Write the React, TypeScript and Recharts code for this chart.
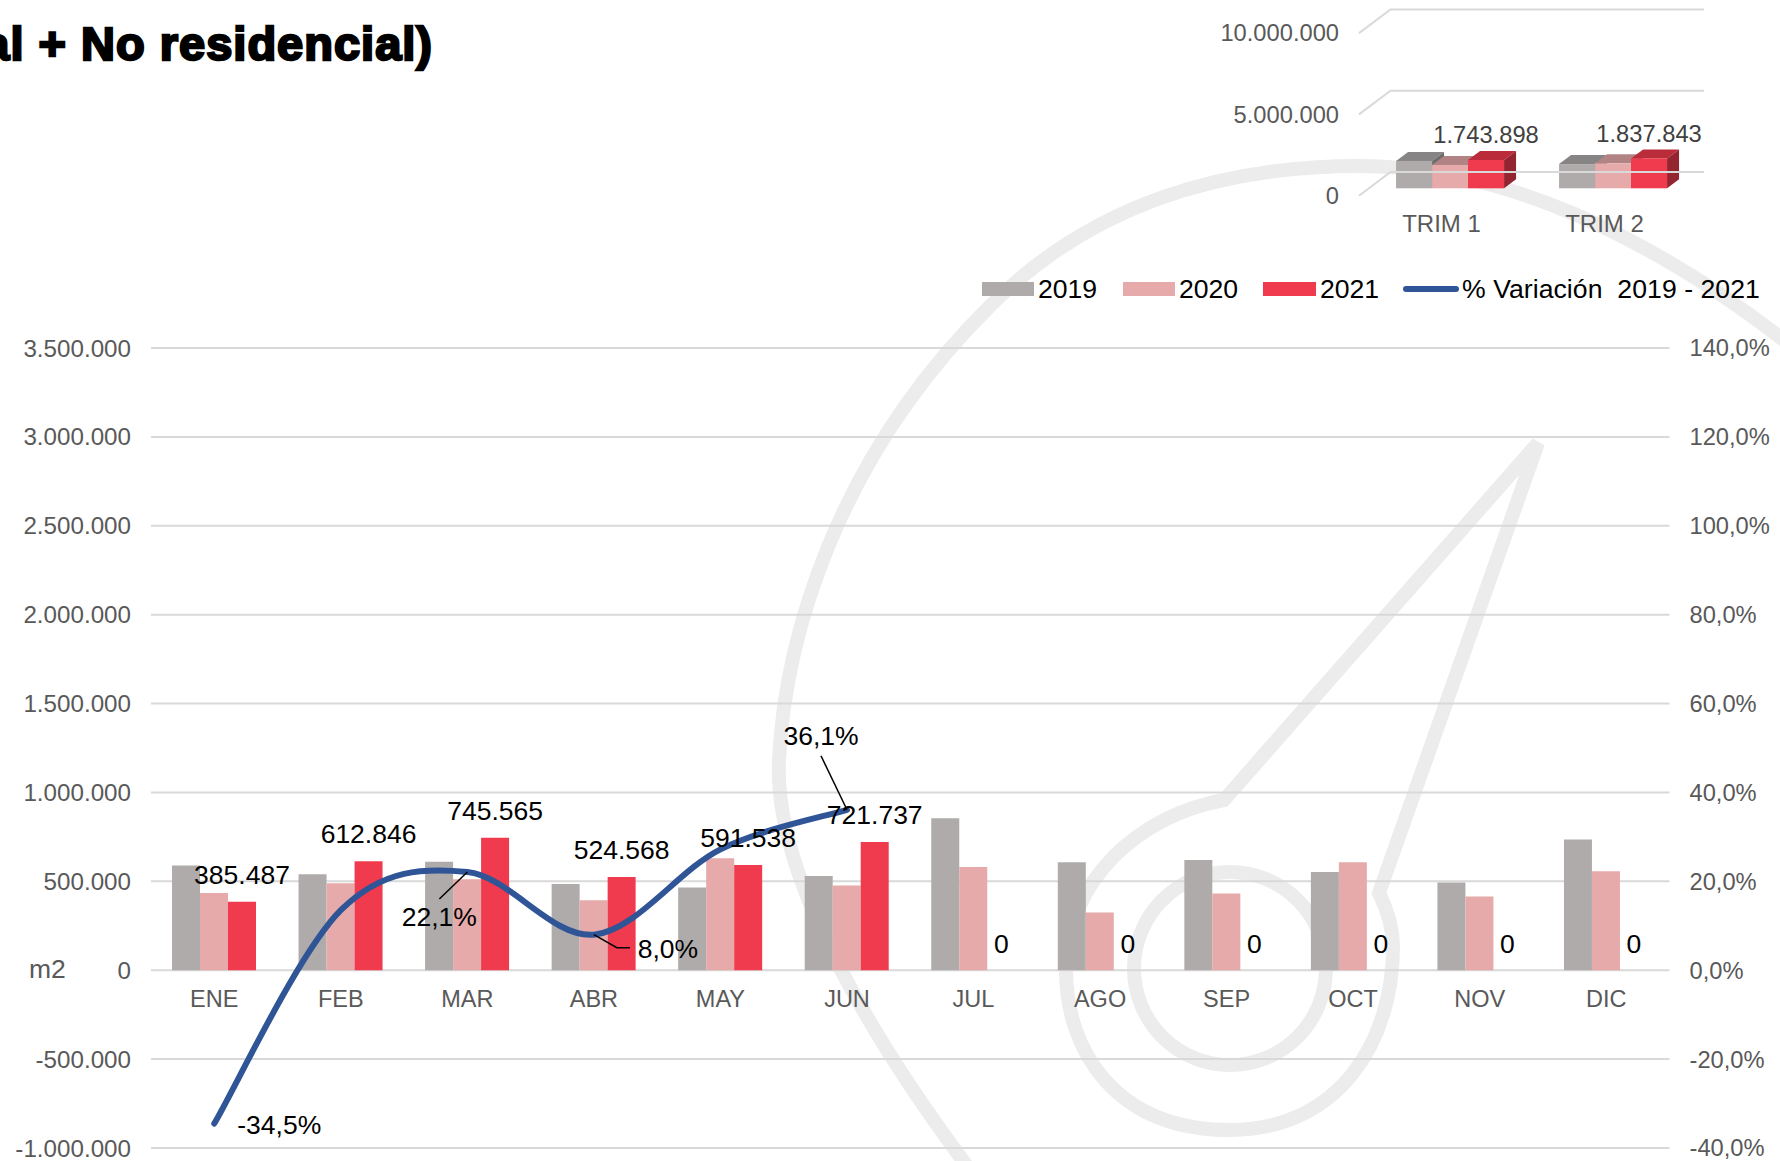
import React from "react"
import {
  Bar,
  BarChart,
  CartesianGrid,
  ComposedChart,
  LabelList,
  Line,
  XAxis,
  YAxis,
} from "recharts"

const months = ["ENE", "FEB", "MAR", "ABR", "MAY", "JUN", "JUL", "AGO", "SEP", "OCT", "NOV", "DIC"]
const values2019 = [588500, 540000, 610600, 485700, 465000, 530300, 855000, 607000, 620000, 553000, 493000, 735000]
const values2020 = [435000, 489000, 512000, 394000, 630000, 476000, 581000, 324000, 431000, 607000, 414000, 557000]
const values2021 = [385487, 612846, 745565, 524568, 591538, 721737, 0, 0, 0, 0, 0, 0]
const variation = [-34.5, 13.5, 22.1, 8.0, 27.2, 36.1, null, null, null, null, null, null]

const quarters = ["TRIM 1", "TRIM 2"]
const quarter2019 = [1686000, 1490000]
const quarter2020 = [1436000, 1537000]
const quarter2021 = [1743898, 1837843]

const leftTicks = [-1000000, -500000, 0, 500000, 1000000, 1500000, 2000000, 2500000, 3000000, 3500000]
const rightTicks = [-40, -20, 0, 20, 40, 60, 80, 100, 120, 140]
const insetTicks = [0, 5000000, 10000000]

const GREY = "#AFABAB"
const PINK = "#E6AAAA"
const RED = "#EF3B4D"
const BLUE = "#2F5597"
const TEXT = "#595959"
const FONT = "'Liberation Sans', Arial, sans-serif"

const monthRows = months.map((month, i) => ({
  month,
  y2019: values2019[i],
  y2020: values2020[i],
  y2021: values2021[i],
  pct: variation[i],
}))

const quarterRows = quarters.map((quarter, i) => ({
  quarter,
  y2019: quarter2019[i],
  y2020: quarter2020[i],
  y2021: quarter2021[i],
}))

const legendItems = [
  { label: "2019", color: GREY, left: 982, width: 52 },
  { label: "2020", color: PINK, left: 1123, width: 52 },
  { label: "2021", color: RED, left: 1263, width: 53 },
]

// hand placed labels of the line, only these months have one
const pctLabels: Record<number, { dx: number; dy: number; leader?: string }> = {
  0: { dx: 65, dy: 1 },
  2: { dx: -28, dy: 45, leader: "0,0 -28,27" },
  3: { dx: 74, dy: 14, leader: "0,0 23,13 36,13" },
  5: { dx: -26, dy: -74, leader: "0,0 -26,-54" },
}

const thousands = (v: number) => v.toLocaleString("de-DE")
const percent = (v: number) => `${v.toFixed(1).replace(".", ",")}%`

// Excel style smoothing, tangents from the two neighbours
const smoothCurve = (context: any) => {
  let pts: number[][] = []
  return {
    areaStart() {},
    areaEnd() {},
    lineStart() {
      pts = []
    },
    point(x: number, y: number) {
      pts.push([+x, +y])
    },
    lineEnd() {
      pts.forEach((p, i) => {
        if (i === 0) {
          context.moveTo(p[0], p[1])
          return
        }
        const a = pts[Math.max(i - 2, 0)]
        const b = pts[i - 1]
        const c = pts[Math.min(i + 1, pts.length - 1)]
        context.bezierCurveTo(
          b[0] + (p[0] - a[0]) / 6,
          b[1] + (p[1] - a[1]) / 6,
          p[0] - (c[0] - b[0]) / 6,
          p[1] - (c[1] - b[1]) / 6,
          p[0],
          p[1],
        )
      })
    },
  }
}

const PctLabel = ({ x, y, value, index }: any) => {
  const place = pctLabels[index]
  if (!place || value == null) return null
  return (
    <g>
      {place.leader && (
        <polyline
          points={place.leader}
          transform={`translate(${x},${y})`}
          fill="none"
          stroke="#000"
          strokeWidth={1.5}
        />
      )}
      <text
        x={x + place.dx}
        y={y + place.dy + 9}
        textAnchor="middle"
        fontSize={26.5}
        fontFamily={FONT}
        fill="#000"
      >
        {percent(value)}
      </text>
    </g>
  )
}

// an empty 2021 bar gets no label of its own, so it is placed from its 2020 neighbour
const ZeroLabel = ({ x, y, width, height, value }: any) => {
  if (value !== 0) return null
  return (
    <text
      x={x + width * 1.5}
      y={y + height - 17}
      textAnchor="middle"
      fontSize={26.5}
      fontFamily={FONT}
      fill="#000"
    >
      {value}
    </text>
  )
}

const MonthTick = ({ x, y, payload }: any) => (
  <text x={x} y={y - 149} textAnchor="middle" fontSize={23.5} fontFamily={FONT} fill={TEXT}>
    {payload.value}
  </text>
)

// gridline of the little 3D chart: side wall plus back wall
const InsetTick = ({ y, payload }: any) => (
  <g>
    <polyline
      points={`1359,${y + 7.4} 1390.5,${y - 16.3} 1704,${y - 16.3}`}
      fill="none"
      stroke="#D9D9D9"
      strokeWidth={2}
    />
    <text x={1339} y={y + 15.5} textAnchor="end" fontSize={23.7} fontFamily={FONT} fill={TEXT}>
      {thousands(payload.value)}
    </text>
  </g>
)

const QuarterTick = ({ x, y, payload }: any) => (
  <text x={x - 9} y={y + 36} textAnchor="middle" fontSize={24} fontFamily={FONT} fill={TEXT}>
    {payload.value}
  </text>
)

const cube = (topColor: string, sideColor: string) => (props: any) => {
  const { x, y, width, height, fill } = props
  const dx = 12
  const dy = 9
  return (
    <g>
      <polygon
        points={`${x},${y} ${x + dx},${y - dy} ${x + width + dx},${y - dy} ${x + width},${y}`}
        fill={topColor}
      />
      <polygon
        points={`${x + width},${y} ${x + width + dx},${y - dy} ${x + width + dx},${y + height - dy} ${x + width},${y + height}`}
        fill={sideColor}
      />
      <rect x={x} y={y} width={width} height={height} fill={fill} />
    </g>
  )
}

const Watermark = () => (
  <svg width={1780} height={1161} style={{ position: "absolute", left: 0, top: 0 }}>
    <g fill="none" stroke="#ECECEC" strokeWidth={14}>
      <path d="M 970 1170 C 880 1050, 773 880, 779 760 C 785 640, 835 460, 989 307 C 1095 200, 1230 166, 1359 166 C 1500 166, 1650 235, 1790 345" />
      <path d="M 1538 443 L 1224 800 C 1140 815, 1066 880, 1066 970 C 1066 1050, 1115 1130, 1230 1130 C 1340 1130, 1393 1040, 1393 947 C 1393 925, 1385 905, 1379 893 Z" />
      <ellipse cx={1230} cy={968.5} rx={96} ry={96.5} />
    </g>
  </svg>
)

const Legend2 = () => {
  const text: React.CSSProperties = {
    position: "absolute",
    top: 273,
    fontSize: 26.6,
    lineHeight: "32px",
    color: "#000",
    whiteSpace: "pre",
  }
  return (
    <>
      {legendItems.map((item) => (
        <React.Fragment key={item.label}>
          <div
            style={{
              position: "absolute",
              left: item.left,
              top: 282,
              width: item.width,
              height: 14,
              background: item.color,
            }}
          />
          <div style={{ ...text, left: item.left + item.width + 4 }}>{item.label}</div>
        </React.Fragment>
      ))}
      <div
        style={{
          position: "absolute",
          left: 1403,
          top: 286,
          width: 56,
          height: 6,
          borderRadius: 3,
          background: BLUE,
        }}
      />
      <div style={{ ...text, left: 1462, letterSpacing: 0.05 }}>% Variación  2019 - 2021</div>
    </>
  )
}

export default function App() {
  return (
    <div
      style={{
        position: "absolute",
        left: 0,
        top: 0,
        width: 1780,
        height: 1161,
        overflow: "hidden",
        background: "#fff",
        fontFamily: FONT,
      }}
    >
      <Watermark />

      <div
        style={{
          position: "absolute",
          right: 1780 - 433,
          top: 16,
          fontSize: 47,
          lineHeight: "56px",
          fontWeight: 700,
          letterSpacing: 1,
          WebkitTextStroke: "2.4px #000",
          whiteSpace: "nowrap",
          color: "#000",
        }}
      >
        al + No residencial)
      </div>

      <div style={{ position: "absolute", left: 0, top: 0 }}>
        <ComposedChart
          width={1780}
          height={1161}
          data={monthRows}
          margin={{ top: 348, right: 0, bottom: 0, left: 0 }}
          barCategoryGap="16.6%"
          barGap={0}
        >
          <CartesianGrid vertical={false} stroke="#D9D9D9" strokeWidth={2} yAxisId="left" />
          <XAxis
            dataKey="month"
            height={13}
            interval={0}
            axisLine={false}
            tickLine={false}
            tick={<MonthTick />}
          />
          <YAxis
            yAxisId="left"
            width={151}
            domain={[-1000000, 3500000]}
            ticks={leftTicks}
            interval={0}
            tickFormatter={thousands}
            axisLine={false}
            tickLine={false}
            tickMargin={14}
            tick={{ fontSize: 24.2, fill: TEXT, fontFamily: FONT }}
          />
          <YAxis
            yAxisId="right"
            orientation="right"
            width={110.5}
            domain={[-40, 140]}
            ticks={rightTicks}
            interval={0}
            tickFormatter={percent}
            axisLine={false}
            tickLine={false}
            tickMargin={14}
            tick={{ fontSize: 23.7, fill: TEXT, fontFamily: FONT }}
          />
          <Bar yAxisId="left" dataKey="y2019" fill={GREY} isAnimationActive={false} />
          <Bar yAxisId="left" dataKey="y2020" fill={PINK} isAnimationActive={false}>
            <LabelList dataKey="y2021" content={<ZeroLabel />} />
          </Bar>
          <Bar yAxisId="left" dataKey="y2021" fill={RED} isAnimationActive={false}>
            <LabelList
              dataKey="y2021"
              position="top"
              offset={18}
              formatter={thousands}
              fontSize={26.5}
              fontFamily={FONT}
              fill="#000"
            />
          </Bar>
          <Line
            yAxisId="right"
            dataKey="pct"
            type={smoothCurve as any}
            stroke={BLUE}
            strokeWidth={6}
            strokeLinecap="round"
            dot={false}
            isAnimationActive={false}
          >
            <LabelList dataKey="pct" content={<PctLabel />} />
          </Line>
        </ComposedChart>
      </div>

      <div style={{ position: "absolute", left: 29, top: 954, fontSize: 26.5, color: TEXT }}>m2</div>

      <div style={{ position: "absolute", left: 0, top: 0 }}>
        <BarChart
          width={1780}
          height={260}
          data={quarterRows}
          margin={{ top: 25.7, right: 85, bottom: 0, left: 1269 }}
          barCategoryGap="16.6%"
          barGap={0}
        >
          <YAxis
            width={100}
            domain={[0, 10000000]}
            ticks={insetTicks}
            interval={0}
            axisLine={false}
            tickLine={false}
            tick={<InsetTick />}
          />
          <XAxis
            dataKey="quarter"
            height={71.7}
            interval={0}
            axisLine={false}
            tickLine={false}
            tick={<QuarterTick />}
          />
          <Bar dataKey="y2019" fill={GREY} shape={cube("#868484", "#6F6C6C")} isAnimationActive={false} />
          <Bar dataKey="y2020" fill={PINK} shape={cube("#B28384", "#8F6A6A")} isAnimationActive={false} />
          <Bar dataKey="y2021" fill={RED} shape={cube("#BA2C3A", "#952431")} isAnimationActive={false}>
            <LabelList
              dataKey="y2021"
              position="top"
              offset={16.5}
              formatter={thousands}
              fontSize={23.7}
              fontFamily={FONT}
              fill="#404040"
            />
          </Bar>
        </BarChart>
      </div>

      <Legend2 />
    </div>
  )
}
